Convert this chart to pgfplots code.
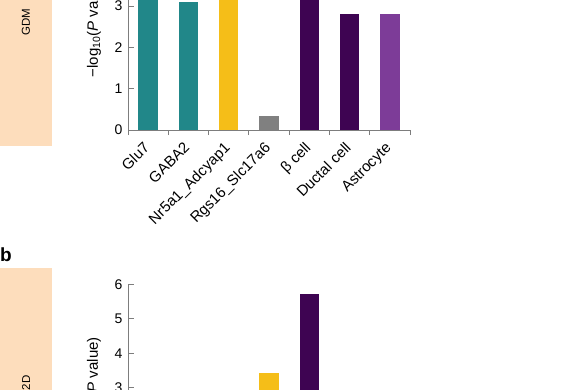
\documentclass[border=0pt]{standalone}
\usepackage{pgfplots}
\pgfplotsset{compat=1.18}
\usepackage{fontspec}
\setmainfont{Liberation Sans}
\definecolor{peach}{RGB}{253,221,188}
\definecolor{barteal}{RGB}{33,135,137}
\definecolor{baryellow}{RGB}{245,190,24}
\definecolor{bargray}{RGB}{128,128,128}
\definecolor{bardark}{RGB}{62,4,82}
\definecolor{barpurple}{RGB}{125,60,152}
\definecolor{axisgray}{RGB}{125,125,125}
\pgfplotsset{
  panel/.style={
    scale only axis, width=282pt,
    anchor=south west,
    xmin=-0.5, xmax=6.5, ymin=0,
    axis lines=left,
    axis line style={draw=axisgray, line width=0.8pt, -},
    tick style={draw=axisgray, line width=0.8pt},
    every major x tick/.append style={draw=none},
    tick align=inside,
    major tick length=6pt, minor tick length=5pt,
    minor xtick={-0.5,0.5,...,6.5},
    ybar, bar width=19.5pt, bar shift=0pt,
    /pgf/number format/assume math mode=true,
    yticklabel style={font=\fontsize{14}{16}\selectfont, anchor=east, inner sep=0pt, xshift=-5.5pt},
    xticklabel style={font=\fontsize{15}{17}\selectfont, xshift=-5.5pt, yshift=-5pt, rotate=45, anchor=north east, inner sep=0pt},
    ylabel style={font=\fontsize{15}{17}\selectfont, at={(axis description cs:-0.1206,0.5)}, anchor=center},
    ylabel={−log\textsubscript{10}(\textit{P} value)},
  }
}
\begin{document}
\begin{tikzpicture}[x=1pt,y=1pt]
\begin{scope}
\clip (0,0) rectangle (585,-390);
\fill[peach] (0,110) rectangle (52,-146);
\node[rotate=90, font=\fontsize{11.5}{13}\selectfont] at (26,-22) {GDM};
\fill[peach] (0,-268.3) rectangle (52,-505);
\node[rotate=90, font=\fontsize{11.5}{13}\selectfont] at (26,-386.5) {T2D};
\node[anchor=base west, inner sep=0pt, font=\fontsize{19}{21}\selectfont\bfseries] at (0,-261.5) {b};
\begin{axis}[panel, at={(128pt,-130pt)}, height=206.5pt, ymax=5, ytick={0,1,2,3,4,5},
  xtick={0,1,2,3,4,5,6},
  xticklabels={Glu7,GABA2,Nr5a1\_Adcyap1,Rgs16\_Slc17a6,β cell,Ductal cell,Astrocyte}]
\addplot[fill=barteal, draw=none] coordinates {(0,3.5)};
\addplot[fill=barteal, draw=none] coordinates {(1,3.1)};
\addplot[fill=baryellow, draw=none] coordinates {(2,3.8)};
\addplot[fill=bargray, draw=none] coordinates {(3,0.34)};
\addplot[fill=bardark, draw=none] coordinates {(4,4.3)};
\addplot[fill=bardark, draw=none] coordinates {(5,2.82)};
\addplot[fill=barpurple, draw=none] coordinates {(6,2.81)};
\end{axis}
\begin{axis}[panel, at={(128pt,-491pt)}, height=206.7pt, ymax=6, ytick={0,1,2,3,4,5,6},
  xtick={0,1,2,3,4,5,6}, xticklabels={}]
\addplot[fill=baryellow, draw=none] coordinates {(3,3.43)};
\addplot[fill=bardark, draw=none] coordinates {(4,5.72)};
\end{axis}
\end{scope}
\pgfresetboundingbox
\path[use as bounding box] (0,0) rectangle (585,-390);
\end{tikzpicture}
\end{document}
